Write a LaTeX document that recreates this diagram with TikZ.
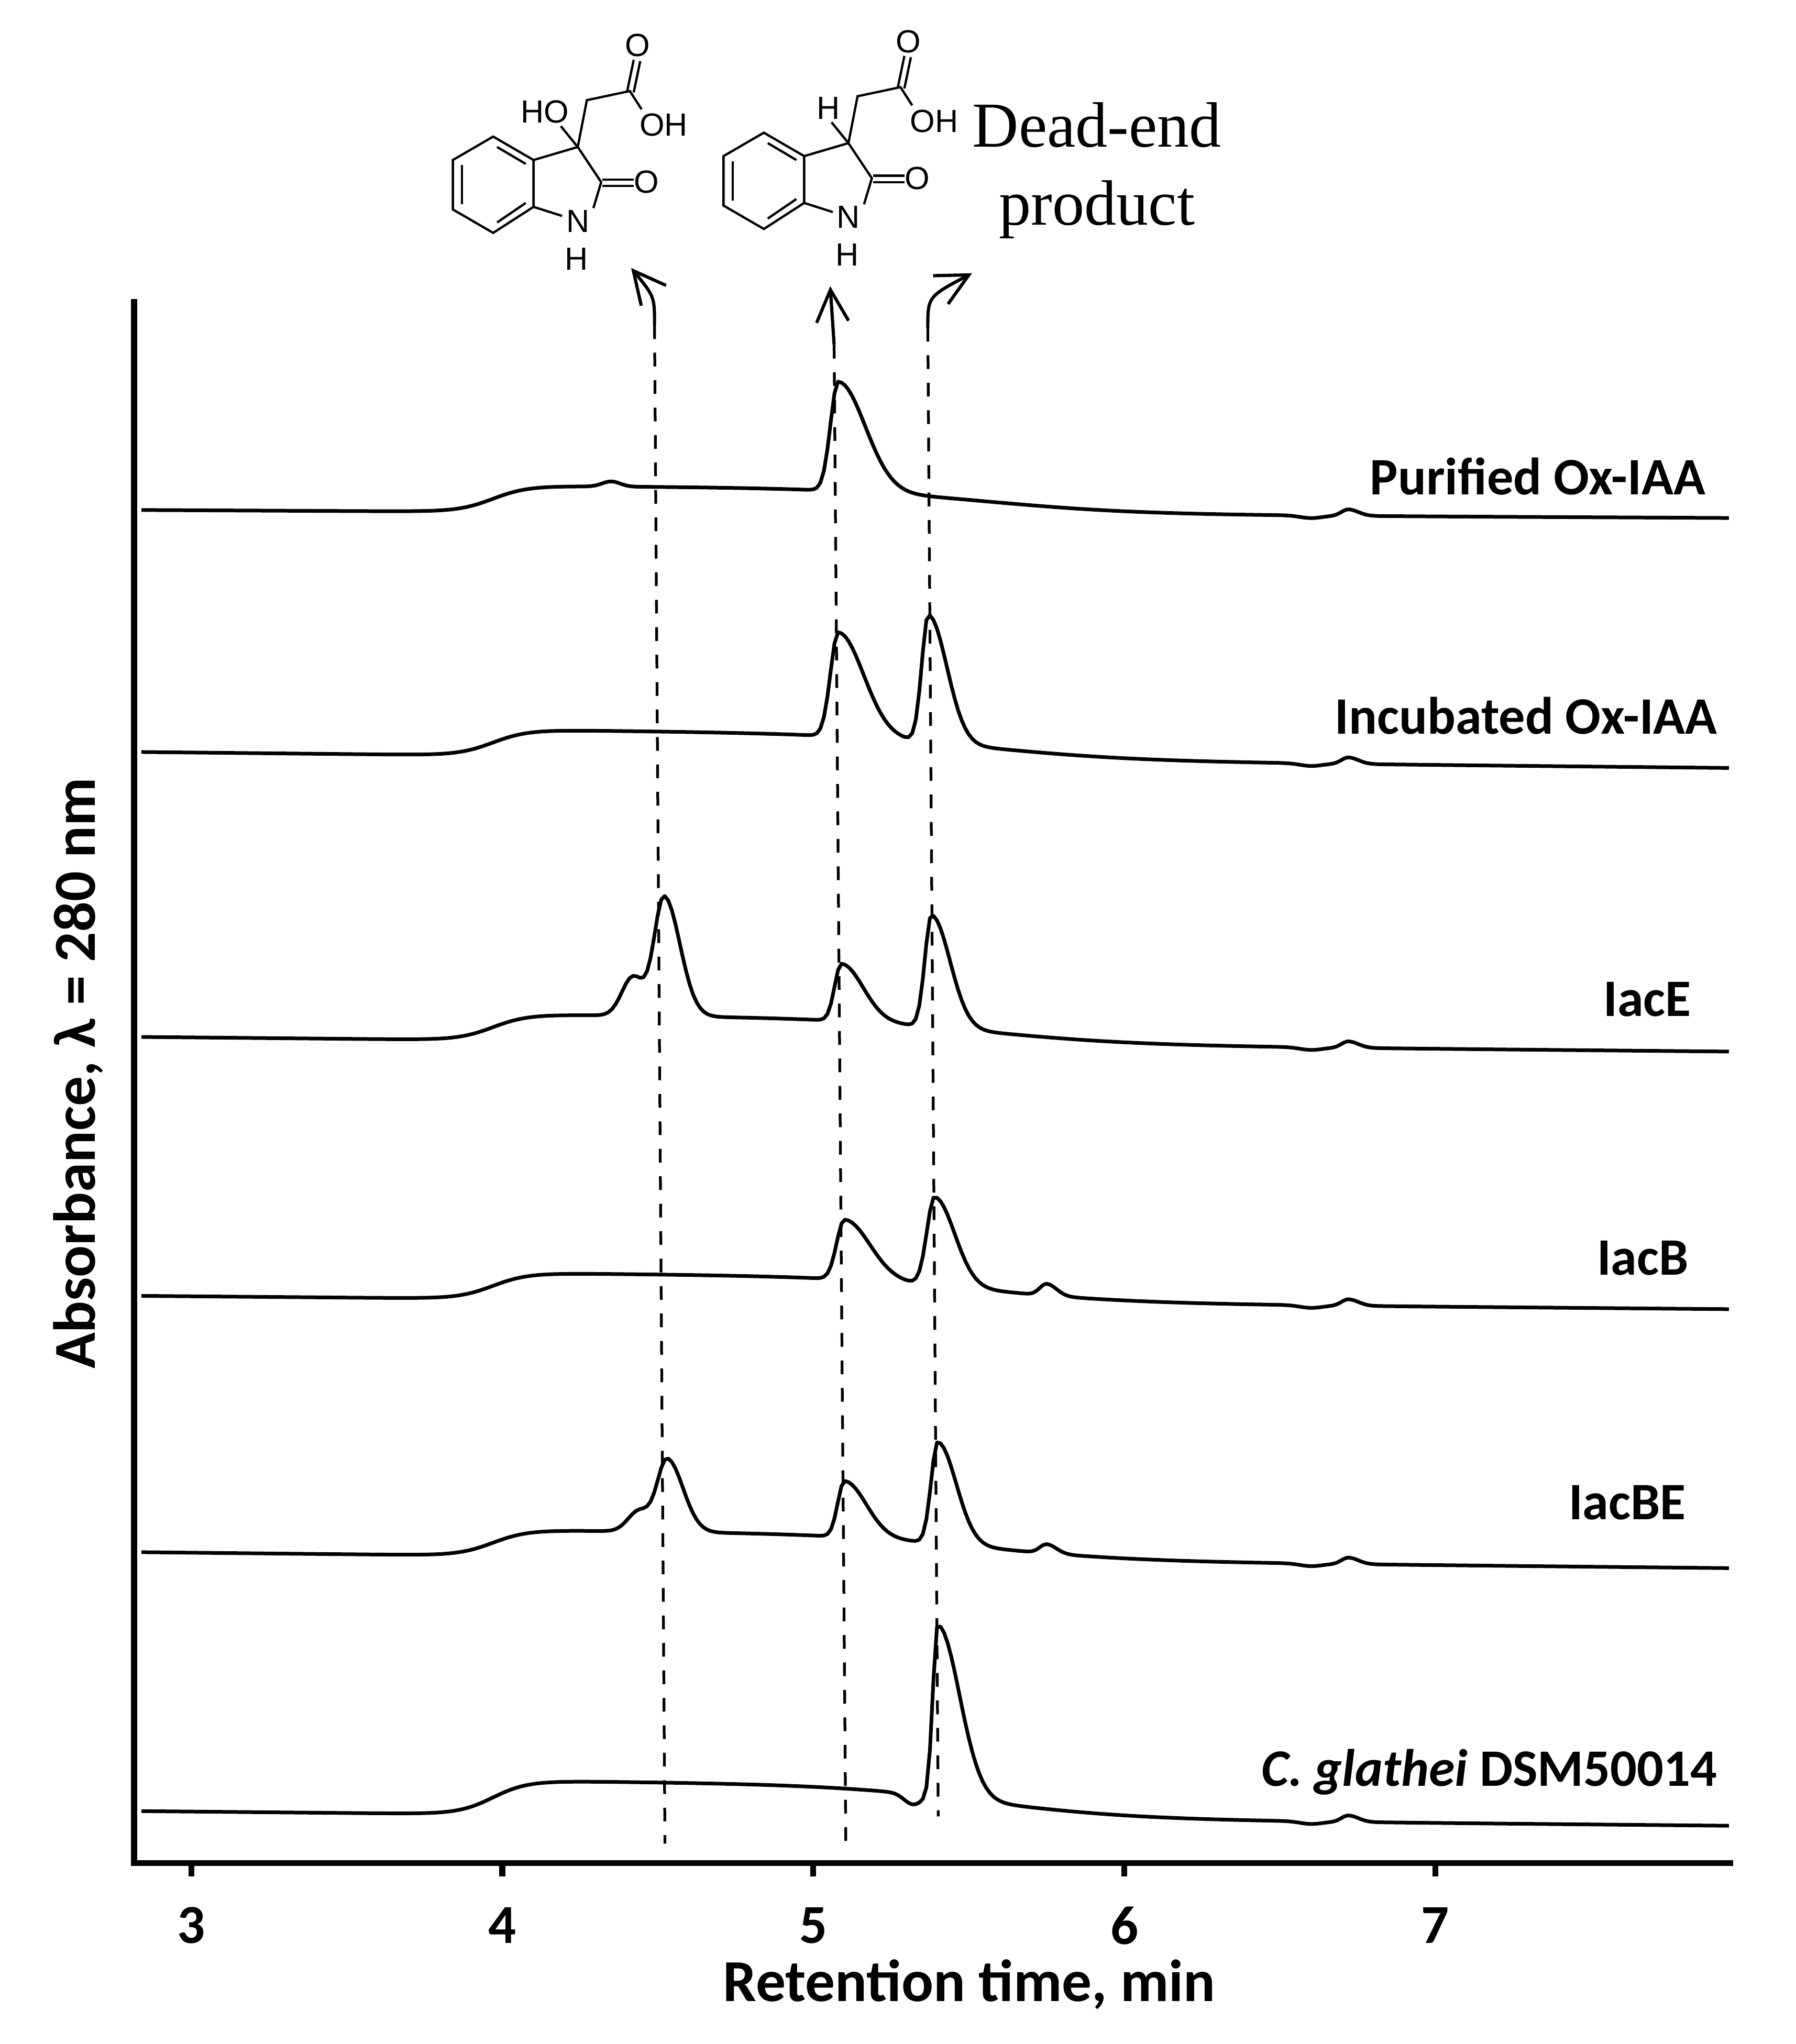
\documentclass[tikz,border=0pt]{standalone}
\usepackage{fontspec}
\setmainfont{Carlito}
\newfontfamily\chemfont{Liberation Sans}
\newfontfamily\serif{Liberation Serif}
\usetikzlibrary{arrows.meta}
\begin{document}
\begin{tikzpicture}[x=0.01cm,y=-0.01cm,
  trace/.style={line width=0.8pt,line join=round},
  axis/.style={line width=1.3pt},
  lab/.style={anchor=east,font=\fontsize{11.5}{13}\selectfont\bfseries},
  tick/.style={font=\fontsize{12}{14}\selectfont\bfseries},
  atom/.style={font=\chemfont\fontsize{7}{8}\selectfont,inner sep=0pt},
  bond/.style={line width=0.5pt},
  guide/.style={dashed,line width=0.6pt},
  pointer/.style={line width=0.7pt,-{Straight Barb[length=7pt,width=7pt]}},
  declare function={
    X(\t)=147+(\t-3)*239;
    g(\t,\c,\h,\w,\r)=\h*exp(-(min(abs((\t-\c)/(\w*(1+(\r-1)*(\t>\c)))),3.2))^2);
    hm(\t,\h)=\h/((1+exp(min(-(\t-3.97)*18,9)))*(1+exp(min((\t-5.55)*4,9))));
    bp(\t)=g(\t,6.72,5,0.03,1.5)-g(\t,6.6,2,0.05,1);
  }]
\useasboundingbox (0,0) rectangle (1380,1571);
% axes
\draw[axis] (103,230) -- (103,1432) -- (1332,1432);
\foreach \v in {3,...,7}{
  \draw[axis] ({X(\v)},1432) -- ({X(\v)},1442);
  \node[tick] (t\v) at ({X(\v)},1480) {\v};
}
\node[font=\fontsize{13}{15}\selectfont\bfseries] (xl) at (745,1525) {Retention time, min};
\node[font=\fontsize{13}{15}\selectfont\bfseries,rotate=90] (yl) at (60,825) {Absorbance, λ = 280 nm};
% traces
\draw[trace] plot[domain=2.84:7.95,samples=450] ({X(\x)},{392+1.2*(\x-2.84)-hm(\x,20)-g(\x,4.35,4,0.04,1)-g(\x,5.08,84,0.035,3.5)-bp(\x)});
\draw[trace] plot[domain=2.84:7.95,samples=450] ({X(\x)},{578+2.4*(\x-2.84)-hm(\x,20)-g(\x,5.08,80,0.035,3.3)-g(\x,5.37,98,0.03,2.8)-bp(\x)});
\draw[trace] plot[domain=2.84:7.95,samples=450] ({X(\x)},{797+2.2*(\x-2.84)-hm(\x,20)-g(\x,4.52,92,0.045,1.6)-g(\x,4.42,30,0.05,1)-g(\x,5.09,44,0.03,3.3)-g(\x,5.38,86,0.03,2.8)-bp(\x)});
\draw[trace] plot[domain=2.84:7.95,samples=450] ({X(\x)},{996+2*(\x-2.84)-hm(\x,20)-g(\x,5.1,46,0.035,3.3)-g(\x,5.39,68,0.035,2.6)-g(\x,5.75,9,0.03,1.5)-bp(\x)});
\draw[trace] plot[domain=2.84:7.95,samples=450] ({X(\x)},{1193+2.4*(\x-2.84)-hm(\x,20)-g(\x,4.53,56,0.045,1.6)-g(\x,4.44,16,0.05,1)-g(\x,5.1,43,0.03,3.3)-g(\x,5.4,78,0.03,2.8)-g(\x,5.75,7,0.03,1.5)-bp(\x)});
\draw[trace] plot[domain=2.84:7.95,samples=450] ({X(\x)},{1392+2.2*(\x-2.84)-hm(\x,26)+g(\x,5.32,8,0.04,1)-g(\x,5.4,132,0.022,4.5)-bp(\x)});
% labels
\node[lab] (l1) at (1323,366) {Purified Ox-IAA};
\node[lab] (l2) at (1332,550) {Incubated Ox-IAA};
\node[lab] (l3) at (1312,768) {IacE};
\node[lab] (l4) at (1310,967) {IacB};
\node[lab] (l5) at (1308,1155) {IacBE};
\node[lab] (l6) at (1332,1362) {\textit{C. glathei} DSM50014};
% guide lines
\coordinate (a1) at (503,250); \coordinate (b1) at (511,1417);
\coordinate (a2) at (641,265); \coordinate (b2) at (650,1418);
\coordinate (a3) at (713,252); \coordinate (b3) at (721,1396);
\draw[guide] (a1) -- (b1);
\draw[guide] (a2) -- (b2);
\draw[guide] (a3) -- (b3);
\coordinate (e1) at (485,206); \coordinate (e2) at (638,220); \coordinate (e3) at (747,210);
\draw[pointer] (a1) .. controls (503,228) .. (e1);
\draw[pointer] (a2) -- (e2);
\draw[pointer] (a3) .. controls (713,228) .. (e3);
% molecules
\foreach \dx/\dy/\sub in {0/0/HO,208/-3/H}{
\begin{scope}[shift={(\dx,\dy)}]
  \draw[bond] (348,123) -- (379,105) -- (410,123) -- (410,159) -- (379,179) -- (348,161) -- cycle;
  \draw[bond] (355,127) -- (355,157);
  \draw[bond] (382,113) -- (404,126);
  \draw[bond] (404,156) -- (382,171);
  \draw[bond] (410,123) -- (444,113) -- (462,140) -- (456,160);
  \draw[bond] (410,159) -- (432,166);
  \draw[bond] (463,138) -- (487,138);
  \draw[bond] (463,143) -- (487,143);
  \draw[bond] (444,113) -- (451,77) -- (484,70) -- (493,84);
  \draw[bond] (482,70) -- (487,46);
  \draw[bond] (487,71) -- (492,47);
  \draw[bond] (444,113) -- (431,97);
  \node[atom] (o1) at (497,140) {O};
  \node[atom] (n1) at (444,170) {N};
  \node[atom] (h1) at (443,199) {H};
  \node[atom] (o2) at (490,35) {O};
  \node[atom] (oh) at (510,96) {OH};
  \node[atom,anchor=east] (s1) at (438,86) {\sub};
\end{scope}}
\node[font=\serif\fontsize{14}{17}\selectfont,align=center] (dead) at (843,131) {Dead-end\\product};
\end{tikzpicture}
\end{document}
